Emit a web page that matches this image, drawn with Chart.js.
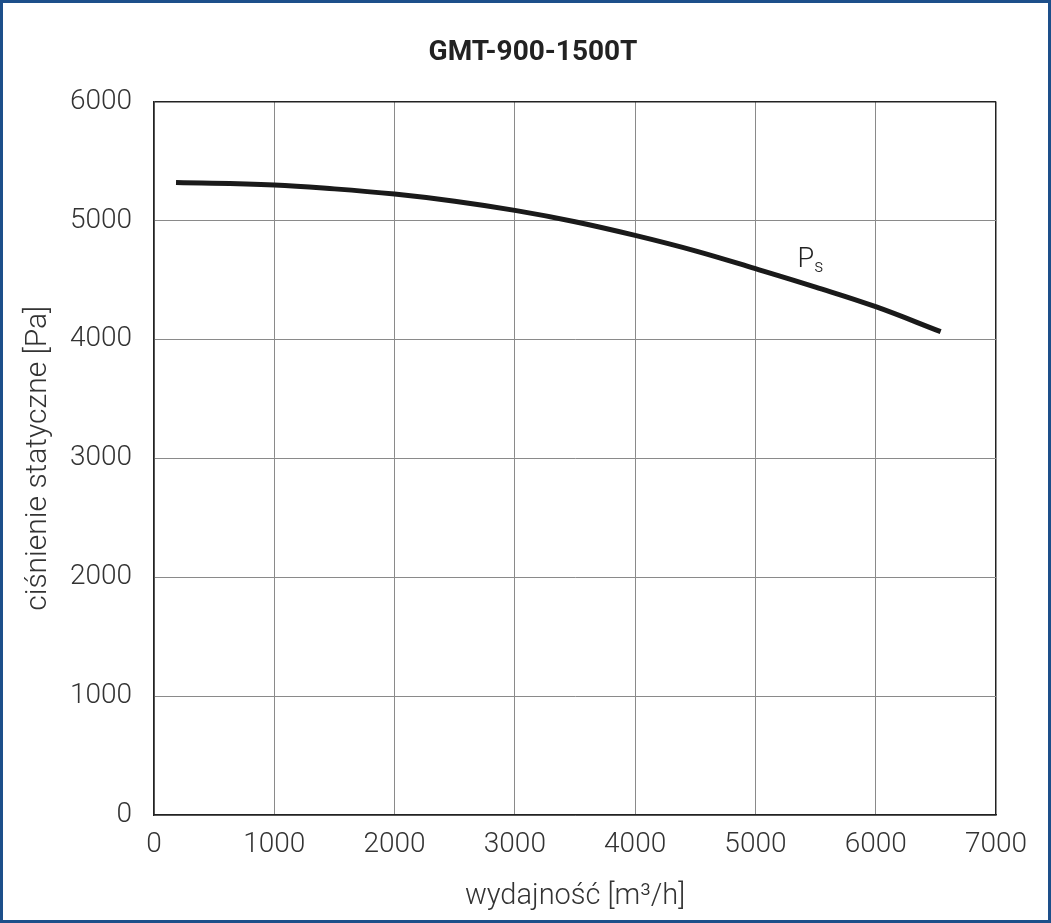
<!DOCTYPE html>
<html>
<head>
<meta charset="utf-8">
<script src="https://cdn.jsdelivr.net/npm/chart.js@4.4.1/dist/chart.umd.min.js"></script>
<style>
  body { margin: 0; background: #fff; }
  #wrap { position: relative; width: 1051px; height: 923px; }
</style>
</head>
<body>
<div id="wrap"><canvas id="fanChart" width="1051" height="923"></canvas></div>
<script>
// flow [m3/h] and static pressure [Pa]
const flowValues = [183, 1000, 1500, 2000, 2500, 3000, 3500, 4000, 4500, 5000, 5500, 6000, 6540];
const pressureValues = [5320, 5299, 5266, 5222, 5162, 5085, 4990, 4875, 4745, 4595, 4440, 4275, 4065];
const xTicks = [0, 1000, 2000, 3000, 4000, 5000, 6000, 7000];
const yTicks = [0, 1000, 2000, 3000, 4000, 5000, 6000];

const curveLabel = "P";
const curveLabelSub = "s";
const curveLabelAt = { x: 5350, y: 4613 };

const FONT = "Roboto";

const points = flowValues.map((f, i) => ({ x: f, y: pressureValues[i] }));

const frame = {
  id: "frame",
  beforeDraw(chart) {
    const ctx = chart.ctx;
    ctx.save();
    ctx.fillStyle = "#fff";
    ctx.fillRect(0, 0, chart.width, chart.height);
    ctx.restore();
  },
  afterDraw(chart) {
    const ctx = chart.ctx;
    const xs = chart.scales.x, ys = chart.scales.y;
    // curve label with subscript
    const px = xs.getPixelForValue(curveLabelAt.x);
    const py = ys.getPixelForValue(curveLabelAt.y);
    ctx.save();
    ctx.fillStyle = "#222";
    ctx.textBaseline = "alphabetic";
    ctx.textAlign = "left";
    ctx.font = "300 27px " + FONT;
    ctx.fillText(curveLabel, px, py);
    const w = ctx.measureText(curveLabel).width;
    ctx.font = "300 18px " + FONT;
    ctx.fillText(curveLabelSub, px + w, py + 5);
    // blue outer border
    ctx.strokeStyle = "#1d4f8a";
    ctx.lineWidth = 3;
    ctx.strokeRect(1.5, 1.5, chart.width - 3, chart.height - 3);
    ctx.restore();
  }
};

new Chart(document.getElementById("fanChart").getContext("2d"), {
  type: "scatter",
  data: {
    datasets: [{
      label: "Ps",
      data: points,
      showLine: true,
      borderColor: "#1a1a1a",
      borderWidth: 5,
      pointRadius: 0,
      tension: 0.4,
      borderCapStyle: "butt"
    }]
  },
  options: {
    responsive: false,
    animation: false,
    layout: { padding: { left: 70, right: 55, top: 0, bottom: 0 } },
    plugins: {
      legend: { display: false },
      tooltip: { enabled: false },
      title: {
        display: true,
        text: "GMT-900-1500T",
        color: "#222",
        font: { family: FONT, size: 28, weight: "bold" },
        padding: { top: 36, bottom: 32 }
      }
    },
    scales: {
      x: {
        type: "linear",
        min: 0,
        max: 7000,
        afterBuildTicks(scale) { scale.ticks = xTicks.map(v => ({ value: v })); },
        afterFit(scale) { scale.height = 108; },
        border: { color: "#222", width: 1.5 },
        grid: {
          drawTicks: false,
          color: ctx => (ctx.tick && ctx.tick.value === 7000) ? "#222" : "#8a8a8a",
          lineWidth: ctx => (ctx.tick && ctx.tick.value === 7000) ? 1.5 : 1
        },
        ticks: {
          padding: 13,
          color: "#333",
          maxRotation: 0,
          callback: v => String(v),
          font: { family: FONT, size: 28, weight: "300" }
        },
        title: {
          display: true,
          text: "wydajność [m³/h]",
          color: "#333",
          font: { family: FONT, size: 29, weight: "300" },
          padding: { top: 0, bottom: 9 }
        }
      },
      y: {
        type: "linear",
        min: 0,
        max: 6000,
        afterBuildTicks(scale) { scale.ticks = yTicks.map(v => ({ value: v })); },
        afterFit(scale) { scale.width = 84; },
        border: { color: "#222", width: 1.5 },
        grid: {
          drawTicks: false,
          color: ctx => (ctx.tick && ctx.tick.value === 6000) ? "#222" : "#8a8a8a",
          lineWidth: ctx => (ctx.tick && ctx.tick.value === 6000) ? 1.5 : 1
        },
        ticks: {
          padding: 22,
          color: "#333",
          callback: v => String(v),
          font: { family: FONT, size: 28, weight: "300" }
        },
        title: {
          display: true,
          text: "ciśnienie statyczne [Pa]",
          color: "#333",
          font: { family: FONT, size: 30, weight: "300" },
          padding: { top: -50, bottom: 0 }
        }
      }
    }
  },
  plugins: [frame]
});
</script>
</body>
</html>
